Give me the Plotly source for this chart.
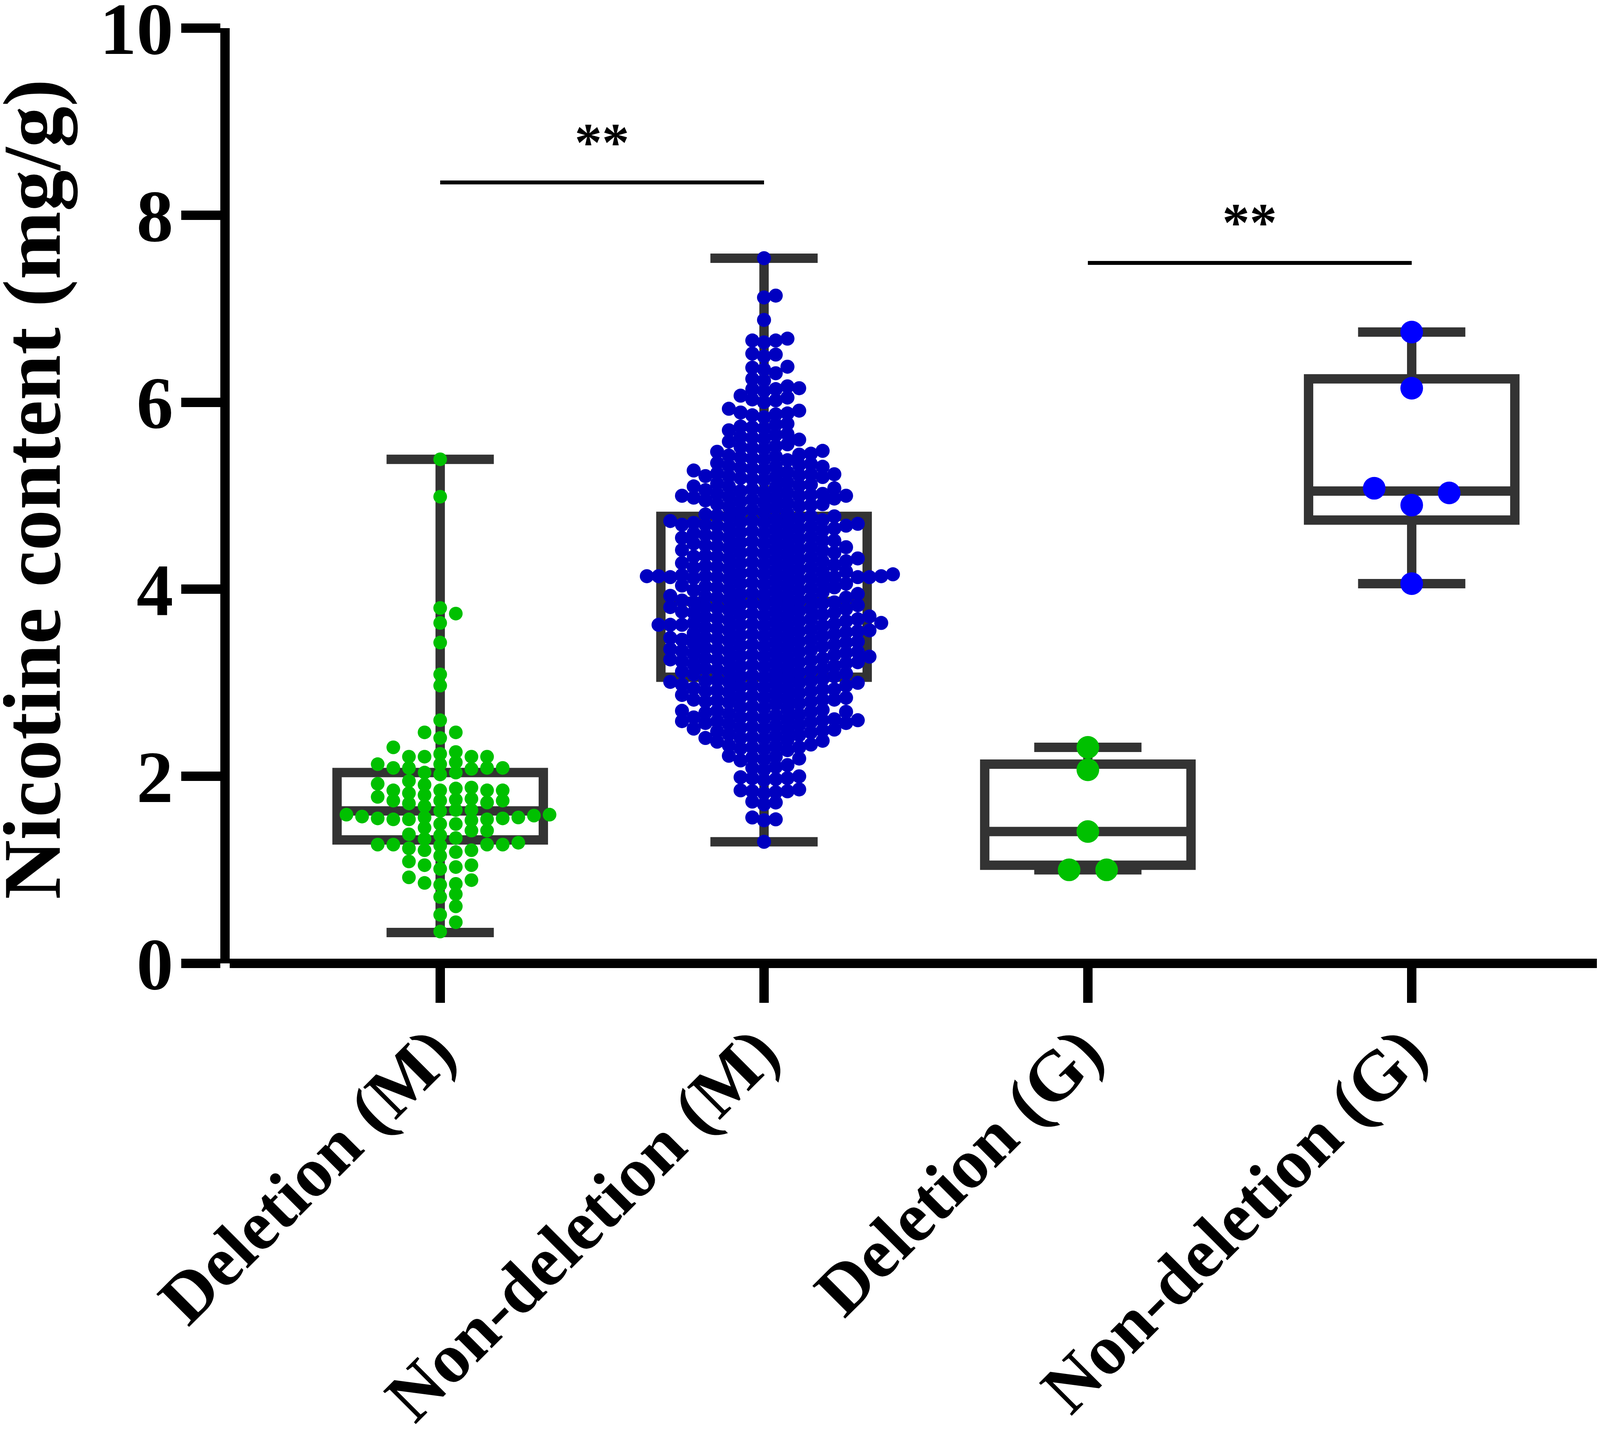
import plotly.graph_objects as go

# ---------------- data ----------------
categories = ["Deletion (M)", "Non-deletion (M)", "Deletion (G)", "Non-deletion (G)"]

del_m = [5.39, 4.99, 3.80, 3.74, 3.64, 3.43, 3.09, 2.97, 2.60, 2.47, 2.47, 2.41, 2.31, 2.26,
         2.24, 2.21, 2.21, 2.21, 2.21, 2.15, 2.13, 2.13, 2.09, 2.09, 2.09, 2.09, 2.08, 2.04,
         2.04, 2.02, 1.95, 1.92, 1.91, 1.88, 1.87, 1.85, 1.85, 1.85, 1.85, 1.82, 1.80, 1.78,
         1.76, 1.75, 1.74, 1.74, 1.74, 1.72, 1.71, 1.68, 1.64, 1.64, 1.63, 1.59, 1.59, 1.58,
         1.57, 1.56, 1.56, 1.55, 1.55, 1.54, 1.54, 1.54, 1.53, 1.49, 1.49, 1.45, 1.42, 1.42,
         1.38, 1.37, 1.34, 1.33, 1.29, 1.27, 1.27, 1.27, 1.27, 1.26, 1.23, 1.21, 1.21, 1.19,
         1.15, 1.09, 1.05, 1.05, 1.03, 1.01, 0.92, 0.89, 0.86, 0.85, 0.84, 0.74, 0.71, 0.61,
         0.52, 0.44, 0.34]

nondel_m = [
    1.30, 1.53, 1.54, 1.56, 1.70, 1.72, 1.73, 1.82, 1.83, 1.84, 1.84, 1.85, 1.86,
    1.96, 1.97, 1.98, 1.98, 1.99, 2.00, 2.07, 2.09, 2.10, 2.12, 2.17, 2.18, 2.19, 2.20,
    2.21, 2.22, 2.28, 2.29, 2.30, 2.31, 2.31, 2.32, 2.33, 2.34,
    2.37, 2.38, 2.39, 2.40, 2.41, 2.41, 2.42, 2.43, 2.44, 2.45,
    2.47, 2.48, 2.49, 2.50, 2.50, 2.51, 2.51, 2.52, 2.53, 2.54, 2.55, 2.56,
    2.57, 2.57, 2.58, 2.59, 2.59, 2.60, 2.60, 2.61, 2.61, 2.62, 2.63, 2.63, 2.64, 2.65,
    2.66, 2.67, 2.68, 2.69, 2.69, 2.70, 2.70, 2.71, 2.72, 2.73, 2.74, 2.75,
    2.77, 2.78, 2.79, 2.80, 2.80, 2.81, 2.82, 2.82, 2.82, 2.83, 2.84, 2.84, 2.85, 2.86, 2.87, 2.88,
    2.89, 2.90, 2.91, 2.91, 2.92, 2.93, 2.93, 2.94, 2.94, 2.95, 2.96, 2.97, 2.97, 2.98,
    2.99, 3.00, 3.00, 3.01, 3.01, 3.02, 3.02, 3.03, 3.04, 3.05,
    3.06, 3.07, 3.07, 3.08, 3.09, 3.10, 3.10, 3.11, 3.12, 3.12, 3.13, 3.14, 3.15, 3.15, 3.16,
    3.17, 3.18, 3.18, 3.19, 3.20, 3.21, 3.21, 3.22, 3.22, 3.23, 3.23, 3.24, 3.25, 3.25, 3.26, 3.26,
    3.27, 3.28, 3.28, 3.29, 3.30, 3.30, 3.31, 3.32, 3.32, 3.33, 3.33, 3.34, 3.34, 3.35, 3.36, 3.36,
    3.37, 3.38, 3.39, 3.39, 3.40, 3.41, 3.41, 3.42, 3.43, 3.43, 3.44, 3.44, 3.45, 3.46, 3.46,
    3.47, 3.48, 3.48, 3.49, 3.50, 3.50, 3.51, 3.52, 3.52, 3.53, 3.54, 3.54, 3.55, 3.55, 3.56, 3.56,
    3.57, 3.58, 3.59, 3.60, 3.61, 3.61, 3.62, 3.62, 3.62, 3.62, 3.63, 3.63, 3.64, 3.64, 3.65, 3.66, 3.66,
    3.67, 3.68, 3.68, 3.69, 3.70, 3.71, 3.71, 3.72, 3.73, 3.73, 3.74, 3.75, 3.75, 3.76, 3.76,
    3.77, 3.78, 3.79, 3.79, 3.80, 3.81, 3.81, 3.82, 3.83, 3.83, 3.84, 3.85, 3.85, 3.86, 3.86,
    3.87, 3.88, 3.88, 3.89, 3.90, 3.91, 3.91, 3.92, 3.93, 3.93, 3.94, 3.95, 3.95, 3.96,
    3.97, 3.98, 3.99, 3.99, 4.00, 4.01, 4.02, 4.02, 4.03, 4.04, 4.04, 4.05, 4.06, 4.06,
    4.07, 4.08, 4.09, 4.10, 4.11, 4.12, 4.12, 4.13, 4.13, 4.13, 4.13, 4.13, 4.14, 4.14, 4.14,
    4.14, 4.15, 4.15, 4.16, 4.16,
    4.17, 4.18, 4.19, 4.19, 4.20, 4.21, 4.22, 4.23, 4.23, 4.24, 4.25, 4.26, 4.26,
    4.27, 4.28, 4.28, 4.29, 4.30, 4.30, 4.31, 4.32, 4.33, 4.33, 4.34, 4.35, 4.35, 4.36,
    4.37, 4.38, 4.39, 4.39, 4.40, 4.41, 4.42, 4.42, 4.43, 4.44, 4.45, 4.45, 4.46,
    4.47, 4.48, 4.49, 4.49, 4.50, 4.51, 4.52, 4.52, 4.53, 4.54, 4.55, 4.55, 4.56,
    4.57, 4.58, 4.59, 4.60, 4.60, 4.61, 4.62, 4.63, 4.64, 4.65, 4.65, 4.66,
    4.67, 4.68, 4.68, 4.69, 4.69, 4.70, 4.70, 4.71, 4.71, 4.72, 4.73, 4.73,
    4.74, 4.75, 4.76, 4.77, 4.78, 4.78, 4.79, 4.80, 4.81, 4.82, 4.83, 4.85,
    4.87, 4.88, 4.89, 4.90, 4.91, 4.91, 4.92, 4.93, 4.94, 4.95,
    4.96, 4.97, 4.98, 4.98, 4.99, 5.00, 5.00, 5.00, 5.01, 5.02, 5.02, 5.03, 5.04, 5.05,
    5.06, 5.07, 5.08, 5.09, 5.10, 5.10, 5.11, 5.12, 5.13, 5.14,
    5.17, 5.18, 5.19, 5.20, 5.20, 5.21, 5.21, 5.22, 5.23, 5.23, 5.24, 5.25,
    5.27, 5.28, 5.29, 5.30, 5.31, 5.31, 5.32, 5.33, 5.34, 5.35,
    5.38, 5.39, 5.40, 5.41, 5.42, 5.43, 5.44, 5.45,
    5.47, 5.48, 5.50, 5.51, 5.52, 5.53, 5.55,
    5.58, 5.60, 5.61, 5.62, 5.63, 5.65, 5.66,
    5.70, 5.72, 5.73, 5.74, 5.76, 5.77,
    5.84, 5.86, 5.87, 5.88, 5.89, 5.91, 5.93,
    6.00, 6.02, 6.03, 6.05, 6.07,
    6.12, 6.14, 6.14, 6.15, 6.17,
    6.23, 6.25, 6.31, 6.35, 6.37, 6.38,
    6.49, 6.51, 6.52, 6.64, 6.66, 6.66, 6.68,
    6.88, 7.12, 7.14, 7.54]

del_g = [2.31, 2.07, 1.41, 1.00, 1.00]
nondel_g = [6.75, 6.15, 5.08, 5.03, 4.90, 4.06]

# box statistics as drawn (min-to-max whiskers)
box_q1 = [1.32, 3.06, 1.05, 4.74]
box_median = [1.63, 3.87, 1.41, 5.05]
box_q3 = [2.04, 4.78, 2.13, 6.25]
box_lower = [0.33, 1.30, 1.00, 4.06]
box_upper = [5.39, 7.54, 2.31, 6.75]

# significance brackets
sig_from = [0, 2]
sig_to = [1, 3]
sig_level = [8.35, 7.49]
sig_text = ["**", "**"]

y_ticks = [0, 2, 4, 6, 8, 10]
y_title = "Nicotine content (mg/g)"

# ---------------- style / layout ----------------
W, H = 4178, 3663
M_L, M_R, M_T, M_B = 580, 0, 64, 1205
X_RANGE = [-0.65, 3.69]
Y_RANGE = [0, 10]
PX_PER_X = (W - M_L - M_R) / (X_RANGE[1] - X_RANGE[0])
PX_PER_Y = (H - M_T - M_B) / (Y_RANGE[1] - Y_RANGE[0])

FONT = "Liberation Serif, Times New Roman, serif"
BOX_LINE = "#333333"
group_values = [del_m, nondel_m, del_g, nondel_g]
group_colors = ["#00C000", "#0000C0", "#00C000", "#0000FF"]
group_marker = [35, 36, 58, 58]
group_spacing = [40, 30, 96, 96]      # horizontal swarm spacing (px)
group_rowh = [26, 25, 56, 56]         # vertical collision height (px)
group_rows = [False, False, True, True]  # centre equal values as a row


def swarm_offsets(values, spacing, row_h, px_per_y, rows):
    ys = [v * px_per_y for v in values]
    order = sorted(range(len(values)), key=lambda i: values[i])
    groups = []
    for i in order:
        if rows and groups and values[groups[-1][0]] == values[i]:
            groups[-1].append(i)
        else:
            groups.append([i])
    placed = []
    offs = [0.0] * len(values)
    for g in groups:
        n = len(g)
        y = ys[g[0]]
        base = [(k - (n - 1) / 2) * spacing for k in range(n)]
        near = [px for (px, py) in placed if abs(py - y) < row_h]
        cands = {0.0}
        for px in near:
            for b in base:
                cands.add(px + spacing - b)
                cands.add(px - spacing - b)
        side = sum(near)

        def key(c):
            pref = 0 if ((c >= 0) == (side <= 0)) else 1
            return (round(abs(c), 6), pref)

        chosen = 0.0
        for c in sorted(cands, key=key):
            if all(abs(c + b - px) >= spacing - 1e-6 for b in base for px in near):
                chosen = c
                break
        for k, i in enumerate(g):
            offs[i] = chosen + base[k]
            placed.append((chosen + base[k], y))
    return offs


fig = go.Figure()

BOX_W = 0.637
for i in range(len(categories)):
    fig.add_trace(go.Box(
        x=[i], q1=[box_q1[i]], median=[box_median[i]], q3=[box_q3[i]],
        lowerfence=[box_lower[i]], upperfence=[box_upper[i]],
        boxpoints=False, width=BOX_W, whiskerwidth=0.52,
        line=dict(color=BOX_LINE, width=24), fillcolor="rgba(0,0,0,0)",
        showlegend=False, hoverinfo="skip"))

for i, vals in enumerate(group_values):
    offs = swarm_offsets(vals, group_spacing[i], group_rowh[i], PX_PER_Y, group_rows[i])
    fig.add_trace(go.Scatter(
        x=[i + o / PX_PER_X for o in offs], y=vals, mode="markers",
        marker=dict(size=group_marker[i], color=group_colors[i], line=dict(width=0)),
        showlegend=False, cliponaxis=False, hoverinfo="skip"))

shapes = []
annotations = []
for a, b, lvl, txt in zip(sig_from, sig_to, sig_level, sig_text):
    shapes.append(dict(type="line", xref="x", yref="y", x0=a, x1=b, y0=lvl, y1=lvl,
                       line=dict(color="black", width=10), layer="above"))
    annotations.append(dict(x=(a + b) / 2, y=lvl + 0.43, xref="x", yref="y", text=txt,
                            showarrow=False, xanchor="center", yanchor="middle",
                            font=dict(family=FONT, size=140, color="black", weight="bold")))

annotations.append(dict(x=(74 - M_L) / (W - M_L - M_R), y=(H - M_B - 1244) / (H - M_T - M_B),
                        xref="paper", yref="paper", text=y_title, textangle=-90,
                        showarrow=False, xanchor="center", yanchor="middle",
                        font=dict(family=FONT, size=210, color="black", weight="bold")))

xtickfont = dict(family=FONT, size=181, color="black", weight="bold")
ytickfont = dict(family=FONT, size=188, color="black", weight="bold")

fig.update_layout(
    template="none",
    width=W, height=H,
    margin=dict(l=M_L, r=M_R, t=M_T, b=M_B, pad=0, autoexpand=False),
    paper_bgcolor="white", plot_bgcolor="white",
    boxmode="overlay", showlegend=False,
    shapes=shapes, annotations=annotations,
    xaxis=dict(range=X_RANGE, tickmode="array", tickvals=list(range(len(categories))),
               ticktext=categories, tickangle=-45, ticks="outside", ticklen=100,
               tickwidth=24, tickcolor="black", showline=False, showgrid=False,
               zeroline=False, tickfont=xtickfont, automargin=False,
               ticklabeloverflow="allow", ticklabelstandoff=-52, ticklabelshift=-16),
    yaxis=dict(range=Y_RANGE, tickmode="array", tickvals=y_ticks, ticks="outside",
               ticklen=100, tickwidth=24, tickcolor="black", showline=True,
               linewidth=24, linecolor="black", showgrid=False, zeroline=True,
               zerolinewidth=24, zerolinecolor="black", tickfont=ytickfont,
               automargin=False, ticklabeloverflow="allow", ticklabelstandoff=-17),
)

fig.write_html("out.html")
